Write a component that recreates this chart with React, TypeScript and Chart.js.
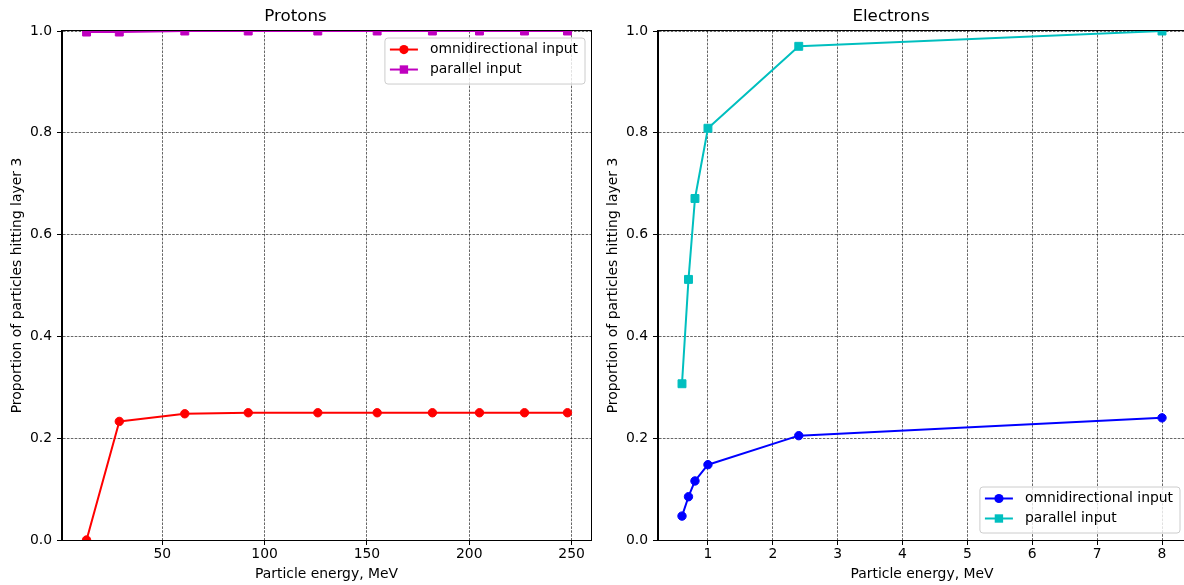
import React, { useEffect, useRef } from "react";
import { Chart, registerables } from "chart.js";

Chart.register(...registerables);

const FONT = "'DejaVu Sans', 'Liberation Sans', sans-serif";

// ---------------- Data ----------------
const protonEnergy = [13, 29, 61, 92, 126, 155, 182, 205, 227, 248];
const protonOmni = [0.0, 0.233, 0.248, 0.25, 0.25, 0.25, 0.25, 0.25, 0.25, 0.25];
const protonParallel = [0.998, 0.998, 1.0, 1.0, 1.0, 1.0, 1.0, 1.0, 1.0, 1.0];

const electronEnergy = [0.6, 0.7, 0.8, 1.0, 2.4, 8.0];
const electronOmni = [0.047, 0.085, 0.116, 0.148, 0.205, 0.24];
const electronParallel = [0.307, 0.512, 0.671, 0.809, 0.97, 1.0];

const protonTicks = [50, 100, 150, 200, 250];
const electronTicks = [1, 2, 3, 4, 5, 6, 7, 8];
const yTicks = [0, 0.2, 0.4, 0.6, 0.8, 1.0];

const legendLabels = ["omnidirectional input", "parallel input"];
const xLabel = "Particle energy, MeV";
const yLabel = "Proportion of particles hitting layer 3";

const FS = 13.9;

// ---------------- Plugin: frame + legend ----------------
const mplPlugin = {
  id: "mplDecor",
  afterDatasetsDraw(chart: any, _args: any, opts: any) {
    const { ctx, chartArea: a } = chart;
    ctx.save();
    // spines
    ctx.strokeStyle = "#000";
    ctx.lineWidth = 1;
    ctx.setLineDash([]);
    ctx.strokeRect(Math.round(a.left) - 0.5, Math.round(a.top) - 0.5, Math.round(a.right - a.left) + 1, Math.round(a.bottom - a.top) + 1);

    // legend
    const items = chart.data.datasets.map((d: any) => ({
      label: d.label,
      color: d.borderColor,
      marker: d.pointStyle,
    }));
    ctx.font = `${FS}px ${FONT}`;
    const textW = Math.max(...items.map((i: any) => ctx.measureText(i.label).width));
    const w = 45 + textW + 7;
    const h = 46;
    const x = a.right - 6 - w;
    const y = opts.corner === "upper right" ? a.top + 7 : a.bottom - 7 - h;
    const r = 3;
    ctx.beginPath();
    ctx.moveTo(x + r, y);
    ctx.lineTo(x + w - r, y);
    ctx.arcTo(x + w, y, x + w, y + r, r);
    ctx.lineTo(x + w, y + h - r);
    ctx.arcTo(x + w, y + h, x + w - r, y + h, r);
    ctx.lineTo(x + r, y + h);
    ctx.arcTo(x, y + h, x, y + h - r, r);
    ctx.lineTo(x, y + r);
    ctx.arcTo(x, y, x + r, y, r);
    ctx.closePath();
    ctx.fillStyle = "rgba(255,255,255,0.8)";
    ctx.fill();
    ctx.strokeStyle = "#cccccc";
    ctx.lineWidth = 1;
    ctx.stroke();

    items.forEach((it: any, i: number) => {
      const cy = y + 11.5 + i * 20;
      ctx.strokeStyle = it.color;
      ctx.fillStyle = it.color;
      ctx.lineWidth = 2;
      ctx.beginPath();
      ctx.moveTo(x + 5, cy);
      ctx.lineTo(x + 33, cy);
      ctx.stroke();
      const mx = x + 19;
      ctx.beginPath();
      if (it.marker === "rect") {
        ctx.rect(mx - 4.2, cy - 4.2, 8.4, 8.4);
      } else {
        ctx.arc(mx, cy, 4.6, 0, Math.PI * 2);
      }
      ctx.fill();
      ctx.fillStyle = "#000";
      ctx.textBaseline = "middle";
      ctx.textAlign = "left";
      ctx.fillText(it.label, x + 45, cy);
    });
    ctx.restore();
  },
};

// ---------------- Config builder ----------------
function makeConfig(
  title: string,
  energy: number[],
  omni: number[],
  parallel: number[],
  cOmni: string,
  cPar: string,
  xMin: number,
  xMax: number,
  xTicks: number[],
  corner: string,
  padRight: number
): any {
  const font = { family: FONT, size: FS };
  const pts = (ys: number[]) => energy.map((x, i) => ({ x, y: ys[i] }));
  const grid = {
    color: "#000",
    lineWidth: 0.6,
    drawTicks: true,
    tickLength: 5,
    tickColor: "#000",
    tickWidth: 1,
    tickBorderDash: [],
  };
  const border = { display: true, color: "#000", width: 1, dash: [2.6, 1.3] };
  return {
    type: "line",
    data: {
      datasets: [
        {
          label: legendLabels[0],
          data: pts(omni),
          borderColor: cOmni,
          backgroundColor: cOmni,
          pointBackgroundColor: cOmni,
          pointBorderColor: cOmni,
          borderWidth: 2,
          pointStyle: "circle",
          pointRadius: 4.2,
          pointHoverRadius: 4.2,
          pointBorderWidth: 1,
          borderJoinStyle: "round",
          clip: 0,
          tension: 0,
        },
        {
          label: legendLabels[1],
          data: pts(parallel),
          borderColor: cPar,
          backgroundColor: cPar,
          pointBackgroundColor: cPar,
          pointBorderColor: cPar,
          borderWidth: 2,
          pointStyle: "rect",
          pointRadius: 5.6,
          pointHoverRadius: 5.6,
          pointBorderWidth: 1,
          borderJoinStyle: "round",
          clip: 0,
          tension: 0,
        },
      ],
    },
    options: {
      responsive: false,
      animation: false,
      devicePixelRatio: 1,
      events: [],
      layout: { padding: { left: 0, right: padRight, top: 0, bottom: 0 } },
      plugins: {
        legend: { display: false },
        tooltip: { enabled: false },
        title: {
          display: true,
          text: title,
          color: "#000",
          font: { family: FONT, size: 16.7, weight: "normal" },
          padding: { top: 6.5, bottom: 4.5 },
        },
        mplDecor: { corner },
      },
      scales: {
        x: {
          type: "linear",
          min: xMin,
          max: xMax,
          afterBuildTicks: (s: any) => {
            s.ticks = xTicks.map((v) => ({ value: v }));
          },
          afterFit: (s: any) => {
            s.height = 45;
          },
          ticks: {
            font,
            color: "#000",
            padding: 1,
            maxRotation: 0,
            autoSkip: false,
            callback: (v: any) => String(v),
          },
          grid,
          border,
          title: {
            display: true,
            text: xLabel,
            color: "#000",
            font,
            padding: { top: 0, bottom: 2 },
          },
        },
        y: {
          type: "linear",
          min: 0,
          max: 1,
          afterBuildTicks: (s: any) => {
            s.ticks = yTicks.map((v) => ({ value: v }));
          },
          afterFit: (s: any) => {
            s.width = 62;
          },
          ticks: {
            font,
            color: "#000",
            padding: 5,
            autoSkip: false,
            callback: (v: any) => Number(v).toFixed(1),
          },
          grid,
          border,
          title: {
            display: true,
            text: yLabel,
            color: "#000",
            font,
            padding: { top: 9.5, bottom: 0 },
          },
        },
      },
    },
    plugins: [mplPlugin],
  };
}

function PlotCanvas({ left, width, config }: { left: number; width: number; config: () => any }) {
  const ref = useRef<HTMLCanvasElement>(null);
  useEffect(() => {
    const chart = new Chart(ref.current as HTMLCanvasElement, config());
    return () => chart.destroy();
  }, []);
  return (
    <canvas
      ref={ref}
      width={width}
      height={585}
      style={{ position: "absolute", left, top: 0, width, height: 585 }}
    />
  );
}

export default function App() {
  return (
    <div
      style={{
        position: "fixed",
        left: 0,
        top: 0,
        width: 1184,
        height: 585,
        overflow: "hidden",
        background: "#fff",
      }}
    >
      <PlotCanvas
        left={0}
        width={600}
        config={() =>
          makeConfig("Protons", protonEnergy, protonOmni, protonParallel, "#ff0000", "#bf00bf", 1, 259.5, protonTicks, "upper right", 9)
        }
      />
      <PlotCanvas
        left={596}
        width={600}
        config={() =>
          makeConfig("Electrons", electronEnergy, electronOmni, electronParallel, "#0000ff", "#00bfbf", 0.23, 8.37, electronTicks, "lower right", 10)
        }
      />
    </div>
  );
}
